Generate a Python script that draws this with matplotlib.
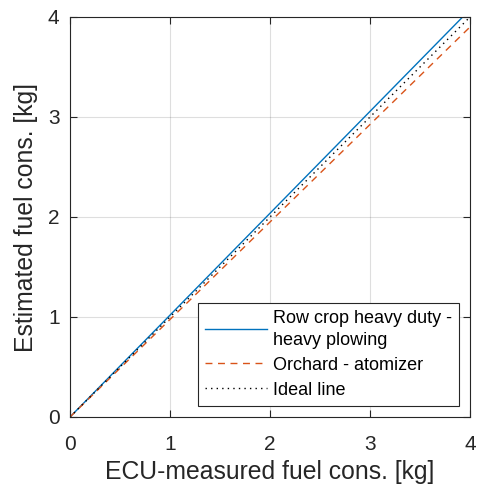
import matplotlib
matplotlib.use("Agg")
import matplotlib.pyplot as plt

# Fuel consumption: estimated vs ECU-measured [kg]
x_row = [0, 4]
y_row = [0, 4.075]
x_orchard = [0, 4]
y_orchard = [0, 3.90]
x_ideal = [0, 4]
y_ideal = [0, 4]

labels = ["Row crop heavy duty -\nheavy plowing", "Orchard - atomizer", "Ideal line"]
ticks = [0, 1, 2, 3, 4]

plt.rcParams['font.family'] = ['Liberation Sans', 'DejaVu Sans']

fig = plt.figure(figsize=(4.79, 4.87), dpi=100)
ax = fig.add_axes([70 / 479, 70 / 487, 400 / 479, 400 / 487])

ax.plot(x_row, y_row, '-', color='#0072BD', lw=1.0, label=labels[0])
ax.plot(x_orchard, y_orchard, '--', color='#D95319', lw=1.0, dashes=(5, 4), label=labels[1])
ax.plot(x_ideal, y_ideal, ':', color='black', lw=1.0, dashes=(1, 3), label=labels[2])

ax.set_xlim(0, 4)
ax.set_ylim(0, 4)
ax.set_xticks(ticks)
ax.set_yticks(ticks)
ax.grid(True, color='#262626', alpha=0.15, lw=0.8)
ax.tick_params(direction='in', length=5, width=0.8, top=True, right=True,
               labelsize=15, colors='#262626')
ax.tick_params(axis='x', pad=13)
ax.tick_params(axis='y', pad=7.5)
for s in ax.spines.values():
    s.set_color('#262626')
    s.set_linewidth(0.8)

ax.set_xlabel("ECU-measured fuel cons. [kg]", fontsize=17.8, color='#262626', labelpad=4)
ax.set_ylabel("Estimated fuel cons. [kg]", fontsize=17.8, color='#262626', labelpad=7)

leg = ax.legend(loc='lower left', bbox_to_anchor=(0.32, 0.0275, 0.6525, 0.27),
                mode='expand', fontsize=13, fancybox=False, framealpha=1,
                edgecolor='#262626', handlelength=3.4, handletextpad=0.35,
                labelspacing=0.45, borderpad=0.4, borderaxespad=0)
leg.get_frame().set_linewidth(0.8)
for t in leg.get_texts():
    t.set_linespacing(1.35)

fig.savefig("out.png", dpi=100)
